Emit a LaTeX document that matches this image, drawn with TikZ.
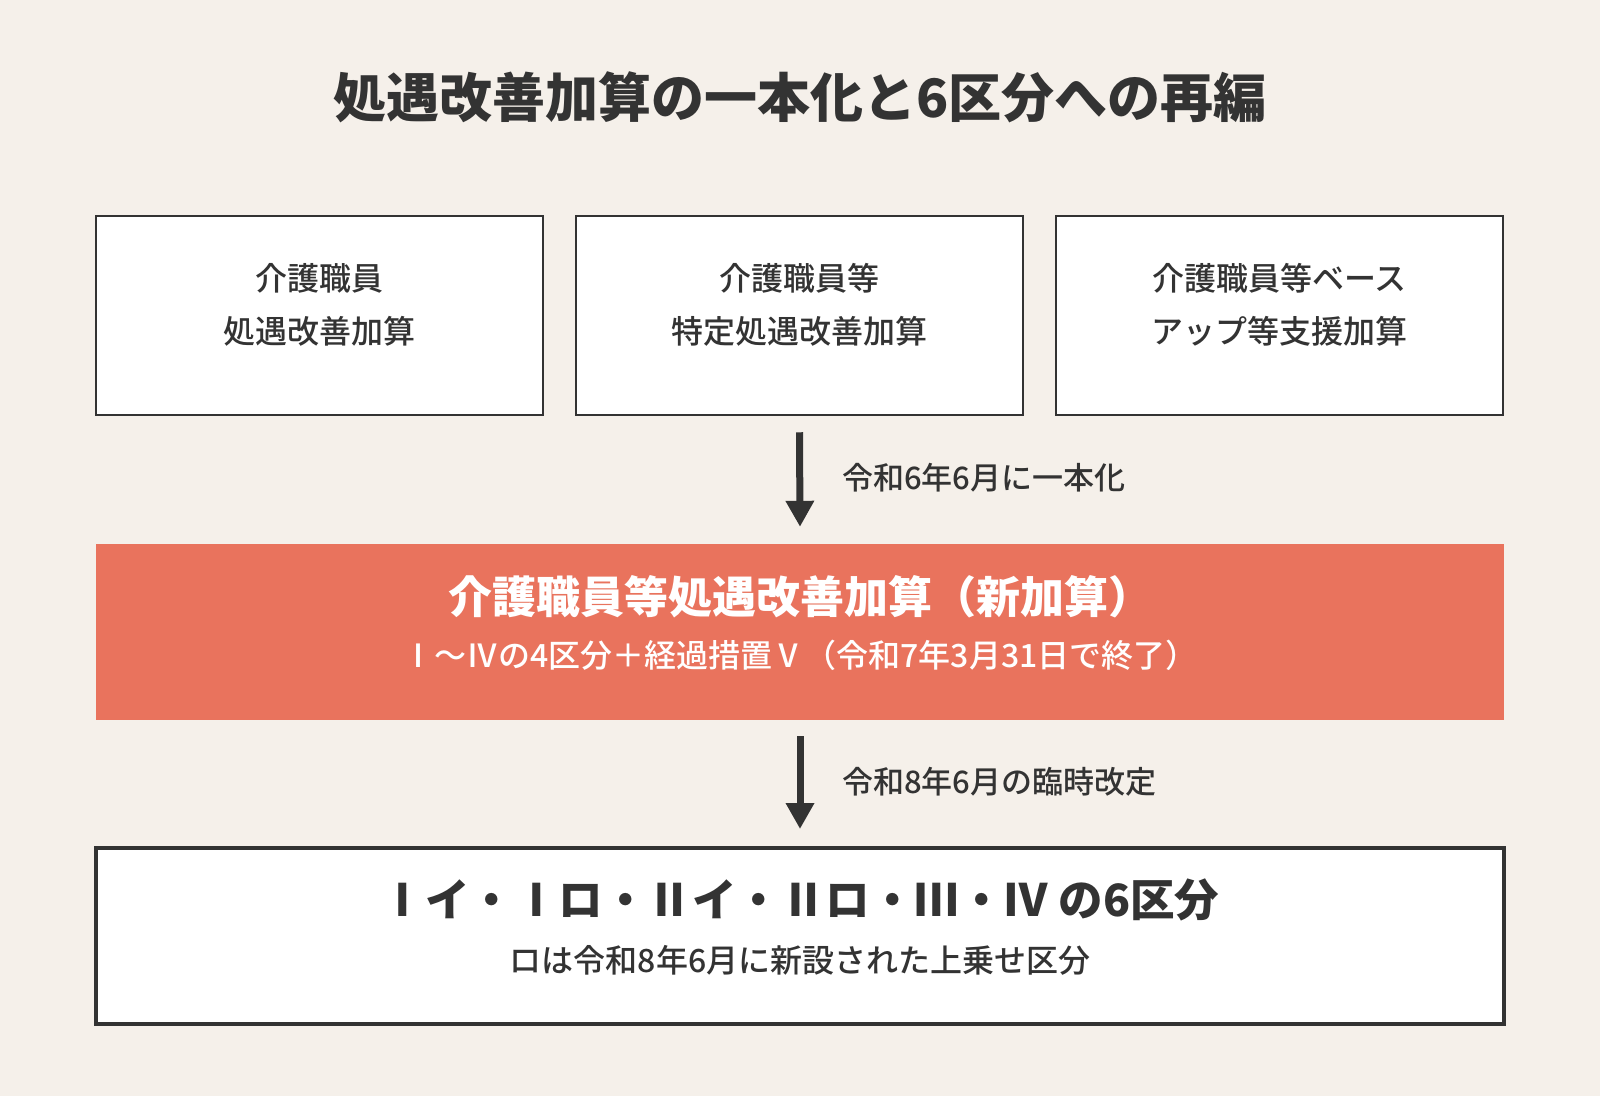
\documentclass[tikz,border=0pt]{standalone}
\usepackage{fontspec}
\setmainfont{Noto Sans CJK JP}
\newfontfamily\jpmed{Noto Sans CJK JP Medium}
\newfontfamily\jpblack{Noto Sans CJK JP Black}
\usetikzlibrary{arrows.meta}
\definecolor{bg}{HTML}{F5F0EA}
\definecolor{ink}{HTML}{333333}
\definecolor{accent}{HTML}{E9735D}
\tikzset{
  topbox/.style={draw=ink, line width=2.5pt, fill=white, minimum width=447pt, minimum height=199pt, inner sep=0pt},
  bandbox/.style={fill=accent, draw=none, minimum width=1408pt, minimum height=176pt, inner sep=0pt},
  resbox/.style={draw=ink, line width=4pt, fill=white, minimum width=1408pt, minimum height=176pt, inner sep=0pt},
  toptext/.style={text=ink, align=center, inner sep=0pt, font=\jpmed\fontsize{32}{53}\selectfont},
  lbltext/.style={text=ink, anchor=west, inner sep=0pt, font=\jpmed\fontsize{31}{36}\selectfont},
  flowarrow/.style={draw=ink, line width=7pt, -{Triangle[width=27pt,length=26pt]}},
}
\begin{document}
\begin{tikzpicture}[x=1pt,y=-1pt]
\fill[bg] (0,0) rectangle (1600,1096);
\useasboundingbox (0,0) rectangle (1600,1096);

\node[text=ink, inner sep=0pt, font=\jpblack\fontsize{53}{60}\selectfont] (title) at (800,97) {処遇改善加算の一本化と6区分への再編};

\node[topbox] (b1) at (319.5,315.5) {};
\node[topbox] (b2) at (799.5,315.5) {};
\node[topbox] (b3) at (1279.5,315.5) {};
\node[toptext] (t1) at (319.5,305) {介護職員\\処遇改善加算};
\node[toptext] (t2) at (799.5,305) {介護職員等\\特定処遇改善加算};
\node[toptext] (t3) at (1279.5,305) {介護職員等ベース\\アップ等支援加算};

\node[bandbox] (red) at (800,632) {};
\node[text=white, inner sep=0pt, font=\jpblack\fontsize{44}{50}\selectfont] (r1) at (800,597) {介護職員等処遇改善加算（新加算）};
\node[text=white, inner sep=0pt, font=\jpmed\fontsize{32}{36}\selectfont] (r2) at (800,655) {Ⅰ～Ⅳの4区分＋経過措置Ⅴ（令和7年3月31日で終了）};

\node[resbox] (res) at (800,936) {};
\node[text=ink, inner sep=0pt, font=\jpblack\fontsize{44.5}{50}\selectfont] (s1) at (800,900) {Ⅰイ・Ⅰロ・Ⅱイ・Ⅱロ・Ⅲ・Ⅳ の6区分};
\node[text=ink, inner sep=0pt, font=\jpmed\fontsize{32}{36}\selectfont] (s2) at (800,960) {ロは令和8年6月に新設された上乗せ区分};

\draw[flowarrow] ([yshift=-16pt]b2.south) -- ([yshift=17pt]red.north);
\draw[flowarrow] ([yshift=-16pt]red.south) -- ([yshift=17pt]res.north);

\node[lbltext] (l1) at (842,478) {令和6年6月に一本化};
\node[lbltext] (l2) at (842,782) {令和8年6月の臨時改定};
\end{tikzpicture}
\end{document}
